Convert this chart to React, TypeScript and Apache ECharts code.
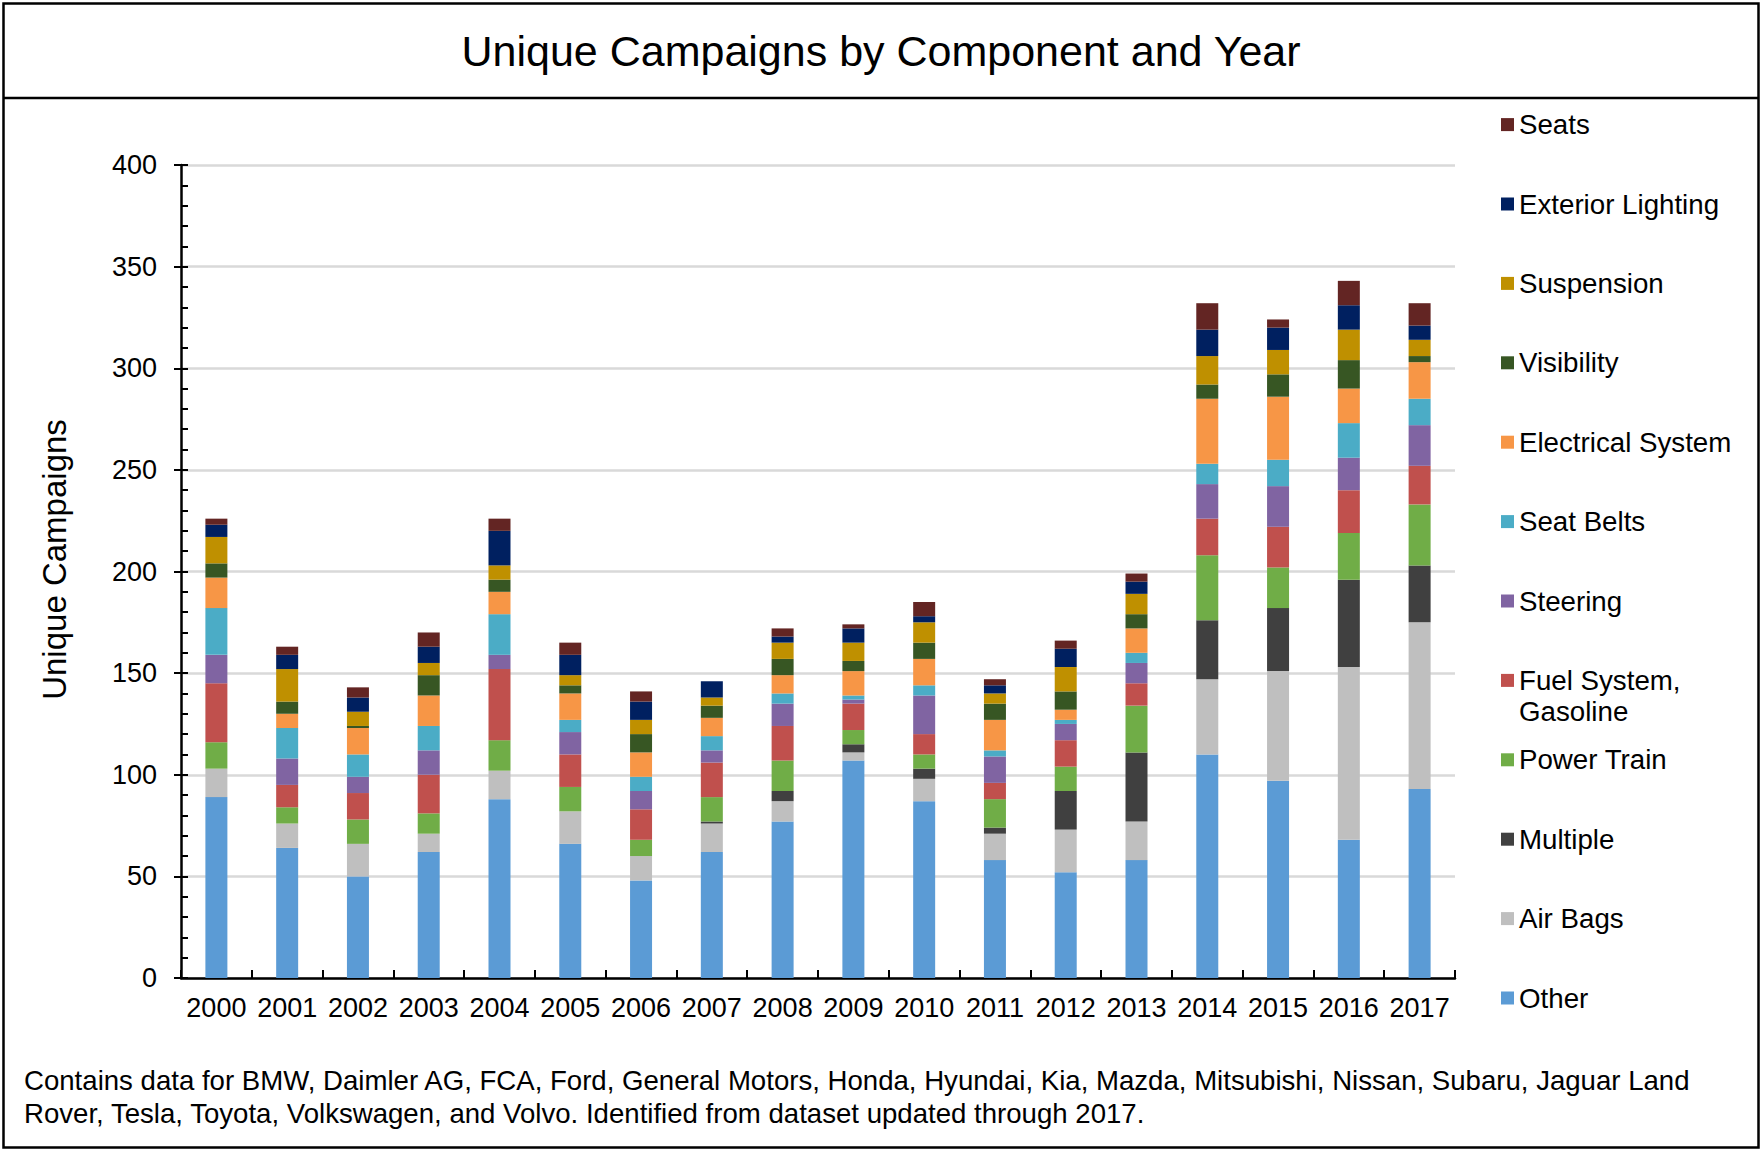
import React, { useEffect, useRef } from "react";
import * as echarts from "echarts";

const years = ["2000","2001","2002","2003","2004","2005","2006","2007","2008","2009","2010","2011","2012","2013","2014","2015","2016","2017"];

const other = [89, 64, 50, 62, 88, 66, 48, 62, 77, 107, 87, 58, 52, 58, 110, 97, 68, 93];
const airBags = [14, 12, 16, 9, 14, 16, 12, 14, 10, 4, 11, 13, 21, 19, 37, 54, 85, 82];
const multiple = [0, 0, 0, 0, 0, 0, 0, 1, 5, 4, 5, 3, 19, 34, 29, 31, 43, 28];
const powerTrain = [13, 8, 12, 10, 15, 12, 8, 12, 15, 7, 7, 14, 12, 23, 32, 20, 23, 30];
const fuelSystem = [29, 11, 13, 19, 35, 16, 15, 17, 17, 13, 10, 8, 13, 11, 18, 20, 21, 19];
const steering = [14, 13, 8, 12, 7, 11, 9, 6, 11, 2, 19, 13, 8, 10, 17, 20, 16, 20];
const seatBelts = [23, 15, 11, 12, 20, 6, 7, 7, 5, 2, 5, 3, 2, 5, 10, 13, 17, 13];
const electrical = [15, 7, 13, 15, 11, 13, 12, 9, 9, 12, 13, 15, 5, 12, 32, 31, 17, 18];
const visibility = [7, 6, 1, 10, 6, 4, 9, 6, 8, 5, 8, 8, 9, 7, 7, 11, 14, 3];
const suspension = [13, 16, 7, 6, 7, 5, 7, 4, 8, 9, 10, 5, 12, 10, 14, 12, 15, 8];
const exteriorLighting = [6, 7, 7, 8, 17, 10, 9, 8, 3, 7, 3, 4, 9, 6, 13, 11, 12, 7];
const seats = [3, 4, 5, 7, 6, 6, 5, 0, 4, 2, 7, 3, 4, 4, 13, 4, 12, 11];

// bottom-to-top stacking order
const seriesDefs = [
  { name: "Other", data: other, color: "#5B9BD5" },
  { name: "Air Bags", data: airBags, color: "#BFBFBF" },
  { name: "Multiple", data: multiple, color: "#404040" },
  { name: "Power Train", data: powerTrain, color: "#70AD47" },
  { name: "Fuel System, Gasoline", data: fuelSystem, color: "#C0504D" },
  { name: "Steering", data: steering, color: "#8064A2" },
  { name: "Seat Belts", data: seatBelts, color: "#4BACC6" },
  { name: "Electrical System", data: electrical, color: "#F79646" },
  { name: "Visibility", data: visibility, color: "#375623" },
  { name: "Suspension", data: suspension, color: "#BF9000" },
  { name: "Exterior Lighting", data: exteriorLighting, color: "#002060" },
  { name: "Seats", data: seats, color: "#632523" },
];

const FONT = "'Liberation Sans', Arial, sans-serif";

export default function App() {
  const ref = useRef<HTMLDivElement>(null);

  useEffect(() => {
    if (!ref.current) return;
    const chart = echarts.init(ref.current, null, { renderer: "svg" });

    const legendOrder = [...seriesDefs].reverse();
    const legends = legendOrder.map((s, i) => {
      const cy = 124.6 + i * 79.4;
      return {
        show: true,
        orient: "vertical",
        left: 1501,
        top: cy - 15,
        padding: 0,
        itemWidth: 13,
        itemHeight: 13,
        selectedMode: false,
        icon: "rect",
        data: [s.name],
        formatter: (n: string) => (n === "Fuel System, Gasoline" ? "Fuel System," : n),
        textStyle: { fontFamily: FONT, fontSize: 27.7, color: "#000", lineHeight: 30 },
      };
    });

    const fuelIdx = legendOrder.findIndex((s) => s.name === "Fuel System, Gasoline");
    const fuelCy = 124.6 + fuelIdx * 79.4;

    const option = {
      animation: false,
      backgroundColor: "#fff",
      title: {
        text: "Unique Campaigns by Component and Year",
        left: "center",
        top: 24,
        textStyle: { fontFamily: FONT, fontSize: 43, fontWeight: "normal", color: "#000" },
      },
      legend: legends,
      grid: { left: 181, right: 307, top: 165, bottom: 1152 - 978, containLabel: false },
      xAxis: {
        type: "category",
        data: years,
        axisLine: { lineStyle: { color: "#000", width: 2.5 } },
        axisTick: { show: true, inside: true, length: 8, lineStyle: { color: "#000", width: 2 } },
        axisLabel: { fontFamily: FONT, fontSize: 27, color: "#000", margin: 16, interval: 0 },
      },
      yAxis: [
        {
          type: "value",
          min: 0,
          max: 400,
          interval: 50,
          name: "Unique Campaigns",
          nameLocation: "middle",
          nameGap: 110,
          nameTextStyle: { fontFamily: FONT, fontSize: 33, color: "#000", padding: [0, 0, 0, 24] },
          axisLine: { show: true, lineStyle: { color: "#000", width: 2.5 } },
          axisTick: { show: true, inside: true, length: 7, lineStyle: { color: "#000", width: 2 } },
          minorTick: { show: true, splitNumber: 5, length: 7, lineStyle: { color: "#000", width: 2 } },
          axisLabel: { fontFamily: FONT, fontSize: 27, color: "#000", margin: 24 },
          splitLine: { show: true, lineStyle: { color: "#D9D9D9", width: 2.5 } },
        },
        {
          type: "value",
          min: 0,
          max: 400,
          interval: 50,
          position: "left",
          axisLine: { show: false },
          axisTick: { show: true, inside: false, length: 7, lineStyle: { color: "#000", width: 2 } },
          axisLabel: { show: false },
          splitLine: { show: false },
        },
      ],
      series: seriesDefs.map((s) => ({
        name: s.name,
        type: "bar",
        stack: "total",
        barWidth: 22,
        data: s.data,
        itemStyle: { color: s.color },
      })),
      graphic: [
        {
          type: "rect",
          shape: { x: 3.5, y: 3.5, width: 1755, height: 1144 },
          style: { fill: "none", stroke: "#000", lineWidth: 2.5 },
          silent: true,
        },
        {
          type: "line",
          shape: { x1: 3.5, y1: 98, x2: 1758.5, y2: 98 },
          style: { stroke: "#000", lineWidth: 2.5 },
          silent: true,
        },
        {
          type: "text",
          x: 1519,
          y: fuelCy + 31,
          style: {
            text: "Gasoline",
            fontFamily: FONT,
            fontSize: 27.7,
            fill: "#000",
            verticalAlign: "middle",
          },
        },
        {
          type: "text",
          x: 24,
          y: 1080,
          style: {
            text: "Contains data for BMW, Daimler AG, FCA, Ford, General Motors, Honda, Hyundai, Kia, Mazda, Mitsubishi, Nissan, Subaru, Jaguar Land",
            fontFamily: FONT,
            fontSize: 27.6,
            fill: "#000",
            verticalAlign: "middle",
          },
        },
        {
          type: "text",
          x: 24,
          y: 1113,
          style: {
            text: "Rover, Tesla, Toyota, Volkswagen, and Volvo. Identified from dataset updated through 2017.",
            fontFamily: FONT,
            fontSize: 27.6,
            fill: "#000",
            verticalAlign: "middle",
          },
        },
      ],
    };

    chart.setOption(option as any);
    return () => chart.dispose();
  }, []);

  return (
    <div
      ref={ref}
      style={{ position: "absolute", left: 0, top: 0, width: 1762, height: 1152 }}
    />
  );
}
